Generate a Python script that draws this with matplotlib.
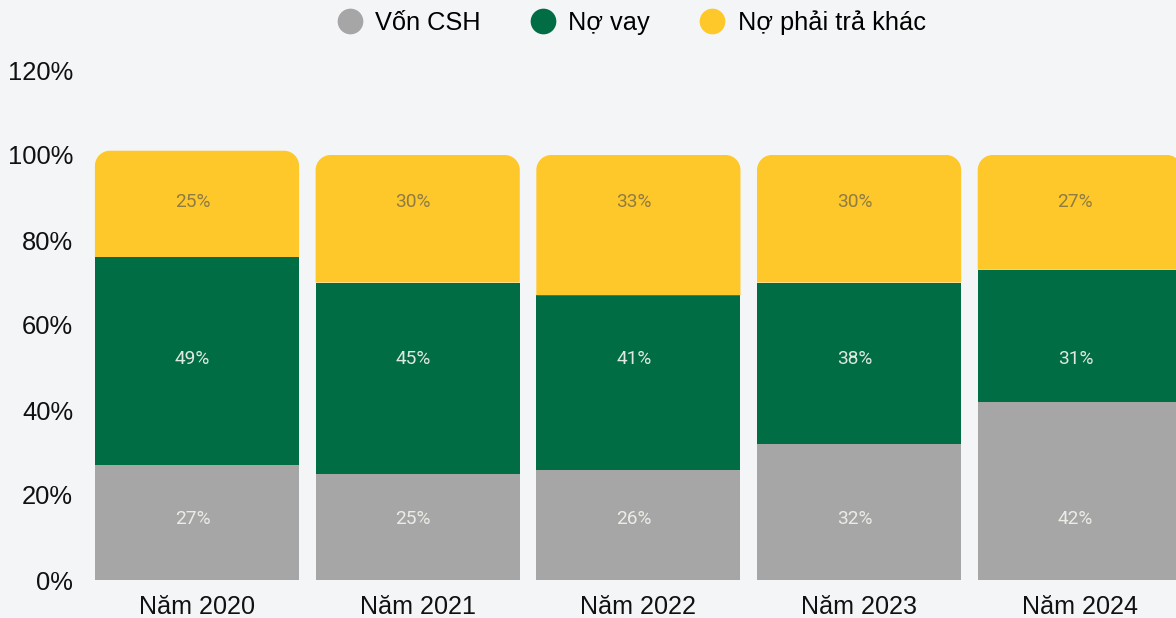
import numpy as np
import matplotlib
matplotlib.use('Agg')
import matplotlib.pyplot as plt
from matplotlib.patches import PathPatch
from matplotlib.path import Path
from matplotlib.lines import Line2D

# Du lieu
categories = ['Năm 2020', 'Năm 2021', 'Năm 2022', 'Năm 2023', 'Năm 2024']
von_csh = [27, 25, 26, 32, 42]
no_vay = [49, 45, 41, 38, 31]
no_khac = [25, 30, 33, 30, 27]
series_names = ['Vốn CSH', 'Nợ vay', 'Nợ phải trả khác']
y_ticks = [0, 20, 40, 60, 80, 100, 120]

# Mau sac
bg = '#f4f5f7'
c_gray = '#a6a6a6'
c_green = '#016d44'
c_yellow = '#fec72a'
label_colors = ['#ececE6', '#dfe8e2', '#8f7c44']
label_y = [14.3, 52, 89]  # vi tri nhan co dinh theo tung chuoi

plt.rcParams['font.family'] = ['Liberation Sans', 'DejaVu Sans']


def top_rounded(x0, y0, w, h, rx, ry):
    # hinh chu nhat bo tron 2 goc tren
    k = 0.5523
    x1, y1 = x0 + w, y0 + h
    verts = [(x0, y0), (x1, y0), (x1, y1 - ry),
             (x1, y1 - ry + k * ry), (x1 - rx + k * rx, y1), (x1 - rx, y1),
             (x0 + rx, y1),
             (x0 + rx - k * rx, y1), (x0, y1 - ry + k * ry), (x0, y1 - ry),
             (x0, y0)]
    codes = [Path.MOVETO, Path.LINETO, Path.LINETO,
             Path.CURVE4, Path.CURVE4, Path.CURVE4,
             Path.LINETO,
             Path.CURVE4, Path.CURVE4, Path.CURVE4,
             Path.CLOSEPOLY]
    return Path(verts, codes)


W, H = 1176, 618
fig = plt.figure(figsize=(W / 100, H / 100), dpi=100, facecolor=bg)
left_px, bottom_px, top_px = 86.65, 38, 548
ax = fig.add_axes([left_px / W, bottom_px / H, 1 - left_px / W, (top_px - bottom_px) / H])
ax.set_facecolor(bg)

x = np.arange(len(categories))
w = 0.925
xmax = (W - 197) / 220.7
ax.set_xlim(-0.5, xmax)
ax.set_ylim(0, 120)

# Ti le pixel tren don vi du lieu, de bo tron goc
px_x = (W - left_px) / (xmax + 0.5)
px_y = (top_px - bottom_px) / 120
r_px = 15
r_x = r_px / px_x
r_y = r_px / px_y

ax.bar(x, von_csh, width=w, color=c_gray, zorder=2)
ax.bar(x, no_vay, width=w, bottom=von_csh, color=c_green, zorder=2)
bottoms = np.array(von_csh) + np.array(no_vay)
for i in range(len(categories)):
    p = top_rounded(x[i] - w / 2, bottoms[i], w, no_khac[i], r_x, r_y)
    ax.add_patch(PathPatch(p, facecolor=c_yellow, edgecolor='none', zorder=2))

for vals, ly, lc in zip([von_csh, no_vay, no_khac], label_y, label_colors):
    for i, v in enumerate(vals):
        ax.text(x[i] - 0.02, ly, f'{v}%', ha='center', va='center',
                color=lc, fontsize=13.8, family=['Roboto', 'DejaVu Sans'], zorder=3)

ax.set_yticks(y_ticks)
ax.set_yticklabels([f'{t}%' for t in y_ticks])
ax.set_xticks(x)
ax.set_xticklabels(categories)
ax.tick_params(axis='y', length=0, pad=9.8, labelsize=18.4, colors='#111111')
ax.tick_params(axis='x', length=0, pad=10.5, labelsize=18.1, colors='#111111')
for s in ax.spines.values():
    s.set_visible(False)

handles = [Line2D([], [], linestyle='none', marker='o', markersize=18.5,
                  markerfacecolor=c, markeredgecolor='none')
           for c in [c_gray, c_green, c_yellow]]
cx = (left_px + W) / 2 / W
fig.legend(handles, series_names, loc='center', bbox_to_anchor=(cx, 1 - 23 / H),
           ncol=3, frameon=False, fontsize=18.3, handlelength=1.0,
           handletextpad=0.5, columnspacing=1.95, borderaxespad=0)

fig.savefig('out.png', dpi=100, facecolor=bg)
